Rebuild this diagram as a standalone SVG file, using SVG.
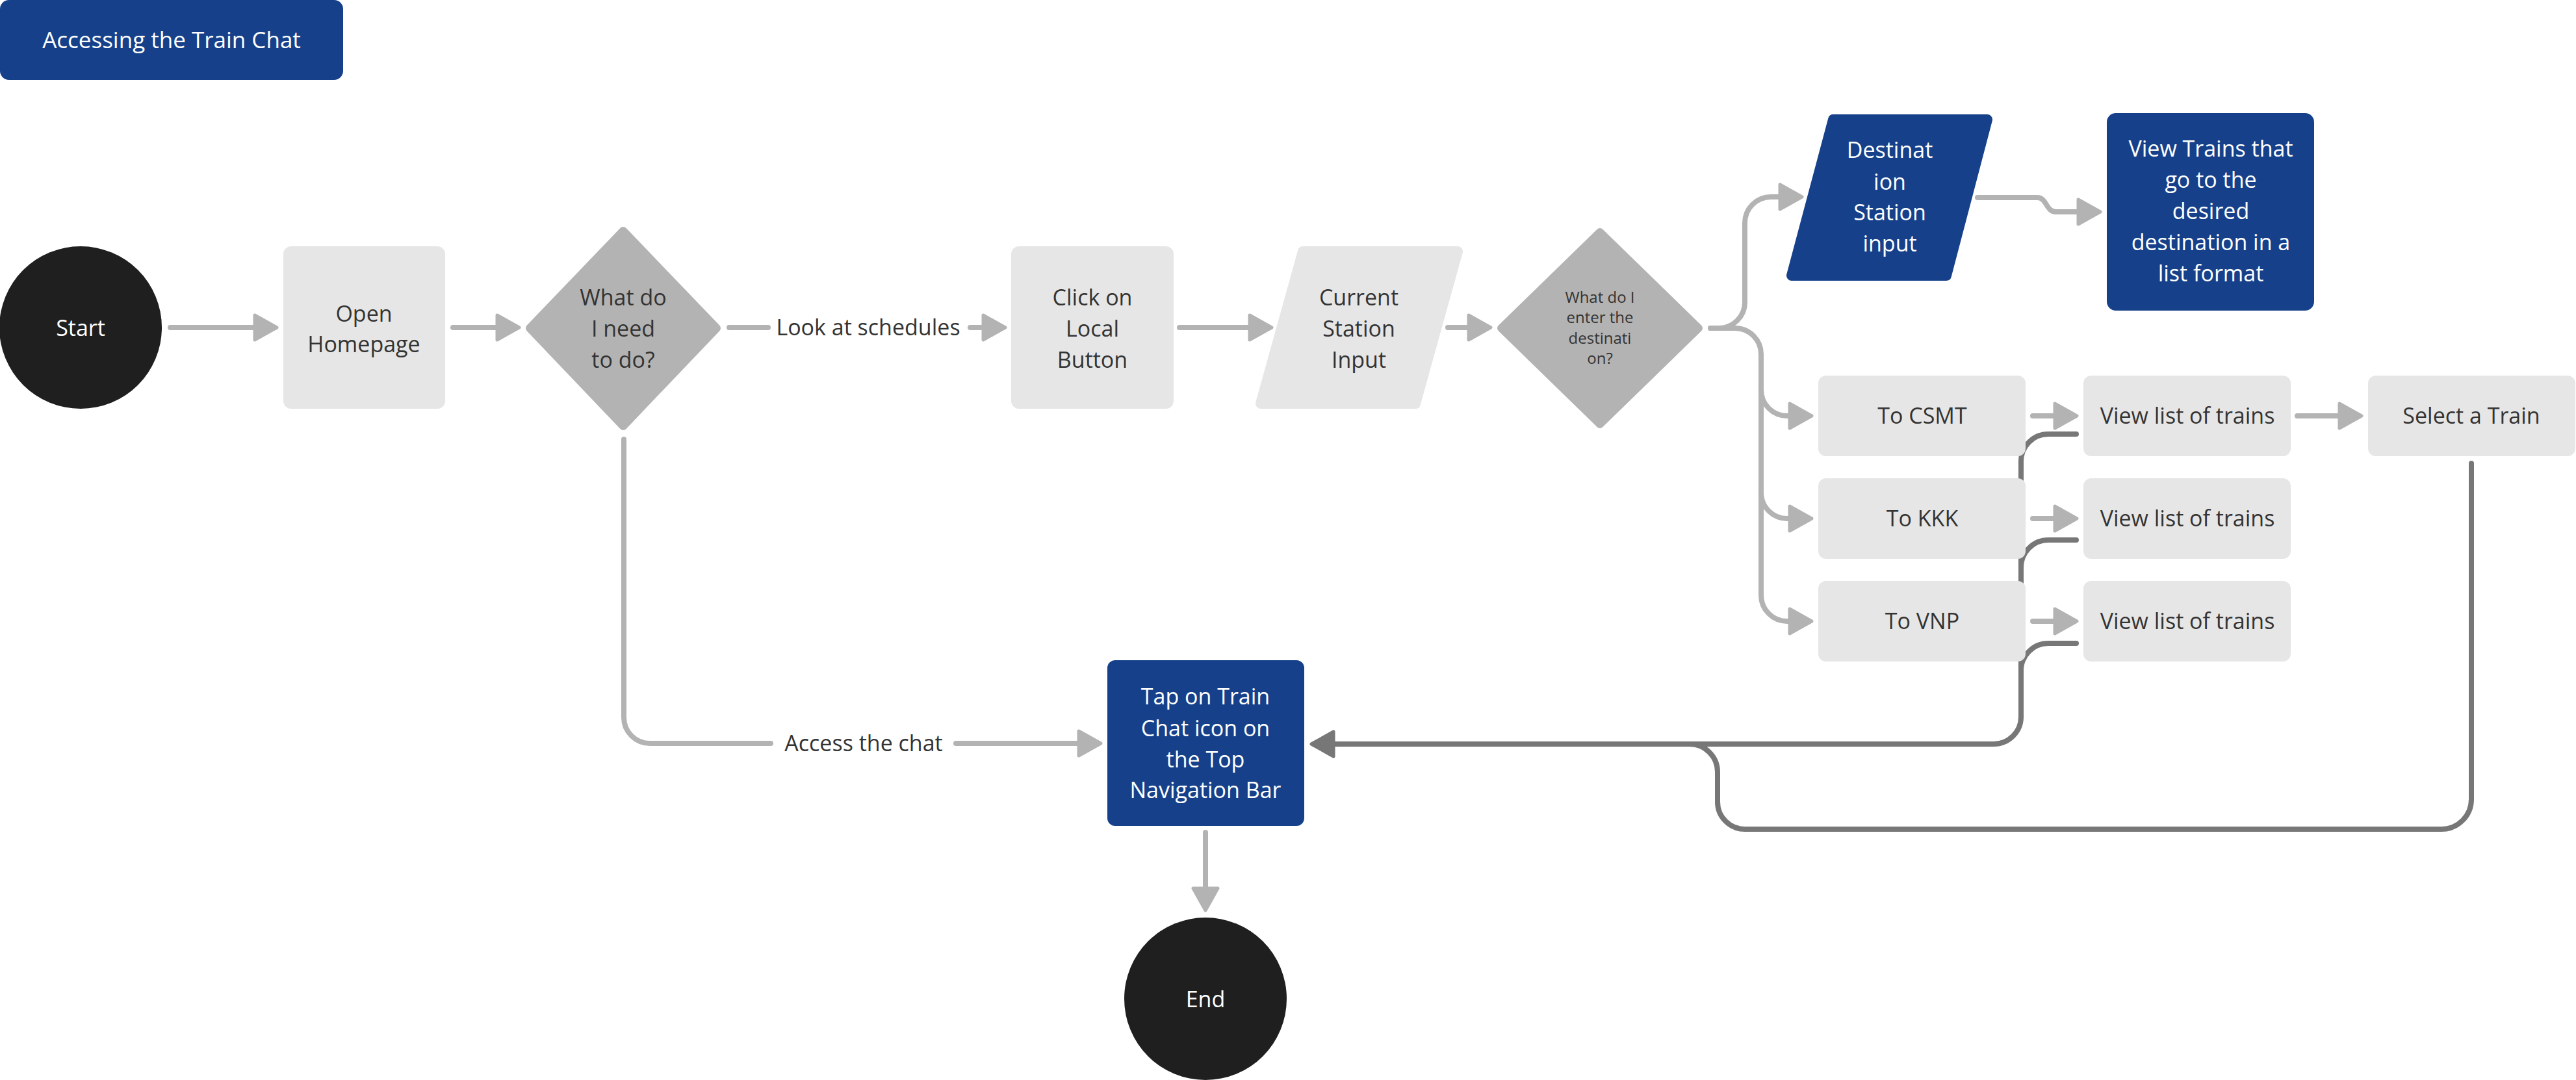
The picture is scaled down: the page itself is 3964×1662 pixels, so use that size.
<svg xmlns="http://www.w3.org/2000/svg" width="3964" height="1662" viewBox="0 0 3964 1662">
<style>
text{font-family:"Open Sans","Liberation Sans",sans-serif;font-size:34px;text-anchor:middle}
.dk{fill:#333333}
.wt{fill:#ffffff}
.sm{font-size:24px}
.lt{fill:#e6e6e6}
.bl{fill:#16418a}
.bk{fill:#1f1f1f}
.gd{fill:#b3b3b3;stroke:#b3b3b3;stroke-width:12;stroke-linejoin:round}
.ltp{fill:#e6e6e6;stroke:#e6e6e6;stroke-width:16;stroke-linejoin:round}
.blp{fill:#16418a;stroke:#16418a;stroke-width:16;stroke-linejoin:round}
.c{fill:none;stroke:#b3b3b3;stroke-width:8;stroke-linecap:round;stroke-linejoin:round}
.cd{fill:none;stroke:#777777;stroke-width:8;stroke-linecap:round;stroke-linejoin:round}
.a{marker-end:url(#ah)}
.ad{marker-end:url(#ahd)}
</style>
<defs>
<marker id="ah" markerUnits="userSpaceOnUse" markerWidth="44" markerHeight="50" refX="2" refY="25" orient="auto" viewBox="0 0 44 50">
<path d="M4,6 L38,25 L4,44 Z" fill="#b3b3b3" stroke="#b3b3b3" stroke-width="5" stroke-linejoin="round"/>
</marker>
<marker id="ahd" markerUnits="userSpaceOnUse" markerWidth="44" markerHeight="50" refX="2" refY="25" orient="auto" viewBox="0 0 44 50">
<path d="M4,6 L38,25 L4,44 Z" fill="#777777" stroke="#777777" stroke-width="5" stroke-linejoin="round"/>
</marker>
</defs>

<g id="connectors">
<path class="c a" d="M262,504 H390"/>
<path class="c a" d="M697,504 H763"/>
<path class="c" d="M1122,504 H1182"/>
<text class="dk" x="1336" y="516">Look at schedules</text>
<path class="c a" d="M1493,504 H1511"/>
<path class="c a" d="M1815,504 H1921"/>
<path class="c a" d="M2228,504 H2258"/>
<path class="c a" d="M2632,505 H2645 A40,40 0 0 0 2685,465 V343 A40,40 0 0 1 2725,303 H2737"/>
<path class="c a" d="M2632,505 H2670 A40,40 0 0 1 2710,545 V600 A40,40 0 0 0 2750,640 H2752"/>
<path class="c a" d="M2710,600 V758 A40,40 0 0 0 2750,798 H2752"/>
<path class="c a" d="M2710,758 V916 A40,40 0 0 0 2750,956 H2752"/>
<path class="c a" d="M3043,304 H3135 C3150,304 3148,326 3164,326 H3196"/>
<path class="c a" d="M3128,640 H3160"/>
<path class="c a" d="M3128,798 H3160"/>
<path class="c a" d="M3128,956 H3160"/>
<path class="c a" d="M3535,640 H3598"/>
<path class="c" d="M960,676 V1104 A40,40 0 0 0 1000,1144 H1186"/>
<text class="dk" x="1329" y="1156">Access the chat</text>
<path class="c a" d="M1471,1144 H1658"/>
<path class="c a" d="M1855,1281 V1365"/>
<path class="cd" d="M3195,831 H3152 A42,42 0 0 0 3110,873 V1103"/>
<path class="cd" d="M3195,990 H3152 A42,42 0 0 0 3110,1032 V1103"/>
<path class="cd ad" d="M3195,668 H3152 A42,42 0 0 0 3110,710 V1103 A42,42 0 0 1 3068,1145 H2054"/>
<path class="cd" d="M3803,713 V1230 A46,46 0 0 1 3757,1276 H2685 A42,42 0 0 1 2643,1234 V1188 A43,43 0 0 0 2600,1145 H2060"/>
</g>

<g id="title">
<rect class="bl" x="0" y="0" width="528" height="123" rx="14"/>
<text class="wt" x="264" y="74" style="font-size:35px">Accessing the Train Chat</text>
</g>

<g id="start">
<circle class="bk" cx="124" cy="504" r="125"/>
<text class="wt" x="124" y="517">Start</text>
</g>

<g id="open-homepage">
<rect class="lt" x="436" y="379" width="249" height="250" rx="12"/>
<text class="dk" x="560" y="495">Open</text>
<text class="dk" x="560" y="542">Homepage</text>
</g>

<g id="decision-1">
<polygon class="gd" points="959,355 1103,505 959,656 815,505"/>
<text class="dk" x="959" y="470">What do</text>
<text class="dk" x="959" y="518">I need</text>
<text class="dk" x="959" y="566">to do?</text>
</g>

<g id="click-local">
<rect class="lt" x="1556" y="379" width="250" height="250" rx="12"/>
<text class="dk" x="1681" y="470">Click on</text>
<text class="dk" x="1681" y="518">Local</text>
<text class="dk" x="1681" y="566">Button</text>
</g>

<g id="current-station">
<polygon class="ltp" points="2005,387 2243,387 2178,621 1940,621"/>
<text class="dk" x="2091" y="470">Current</text>
<text class="dk" x="2091" y="518">Station</text>
<text class="dk" x="2091" y="566">Input</text>
</g>

<g id="decision-2">
<polygon class="gd" points="2462,357 2614,505 2462,653 2310,505"/>
<text class="dk sm" x="2462" y="466">What do I</text>
<text class="dk sm" x="2462" y="497">enter the</text>
<text class="dk sm" x="2462" y="529">destinati</text>
<text class="dk sm" x="2462" y="560">on?</text>
</g>

<g id="destination-input">
<polygon class="blp" points="2821,184 3058,184 2995,424 2757,424"/>
<text class="wt" x="2908" y="243">Destinat</text>
<text class="wt" x="2908" y="292">ion</text>
<text class="wt" x="2908" y="339">Station</text>
<text class="wt" x="2908" y="387">input</text>
</g>

<g id="view-trains">
<rect class="bl" x="3242" y="174" width="319" height="304" rx="14"/>
<text class="wt" x="3402" y="241">View Trains that</text>
<text class="wt" x="3402" y="289">go to the</text>
<text class="wt" x="3402" y="337">desired</text>
<text class="wt" x="3402" y="385">destination in a</text>
<text class="wt" x="3402" y="433">list format</text>
</g>

<g id="to-csmt">
<rect class="lt" x="2798" y="578" width="319" height="124" rx="12"/>
<text class="dk" x="2958" y="652">To CSMT</text>
</g>
<g id="to-kkk">
<rect class="lt" x="2798" y="736" width="319" height="124" rx="12"/>
<text class="dk" x="2958" y="810">To KKK</text>
</g>
<g id="to-vnp">
<rect class="lt" x="2798" y="894" width="319" height="124" rx="12"/>
<text class="dk" x="2958" y="968">To VNP</text>
</g>

<g id="view-list-1">
<rect class="lt" x="3206" y="578" width="319" height="124" rx="12"/>
<text class="dk" x="3366" y="652">View list of trains</text>
</g>
<g id="view-list-2">
<rect class="lt" x="3206" y="736" width="319" height="124" rx="12"/>
<text class="dk" x="3366" y="810">View list of trains</text>
</g>
<g id="view-list-3">
<rect class="lt" x="3206" y="894" width="319" height="124" rx="12"/>
<text class="dk" x="3366" y="968">View list of trains</text>
</g>

<g id="select-train">
<rect class="lt" x="3644" y="578" width="319" height="124" rx="12"/>
<text class="dk" x="3803" y="652">Select a Train</text>
</g>

<g id="tap-chat">
<rect class="bl" x="1704" y="1016" width="303" height="255" rx="12"/>
<text class="wt" x="1855" y="1084">Tap on Train</text>
<text class="wt" x="1855" y="1133">Chat icon on</text>
<text class="wt" x="1855" y="1181">the Top</text>
<text class="wt" x="1855" y="1228">Navigation Bar</text>
</g>

<g id="end">
<circle class="bk" cx="1855" cy="1537" r="125"/>
<text class="wt" x="1855" y="1550">End</text>
</g>
</svg>
